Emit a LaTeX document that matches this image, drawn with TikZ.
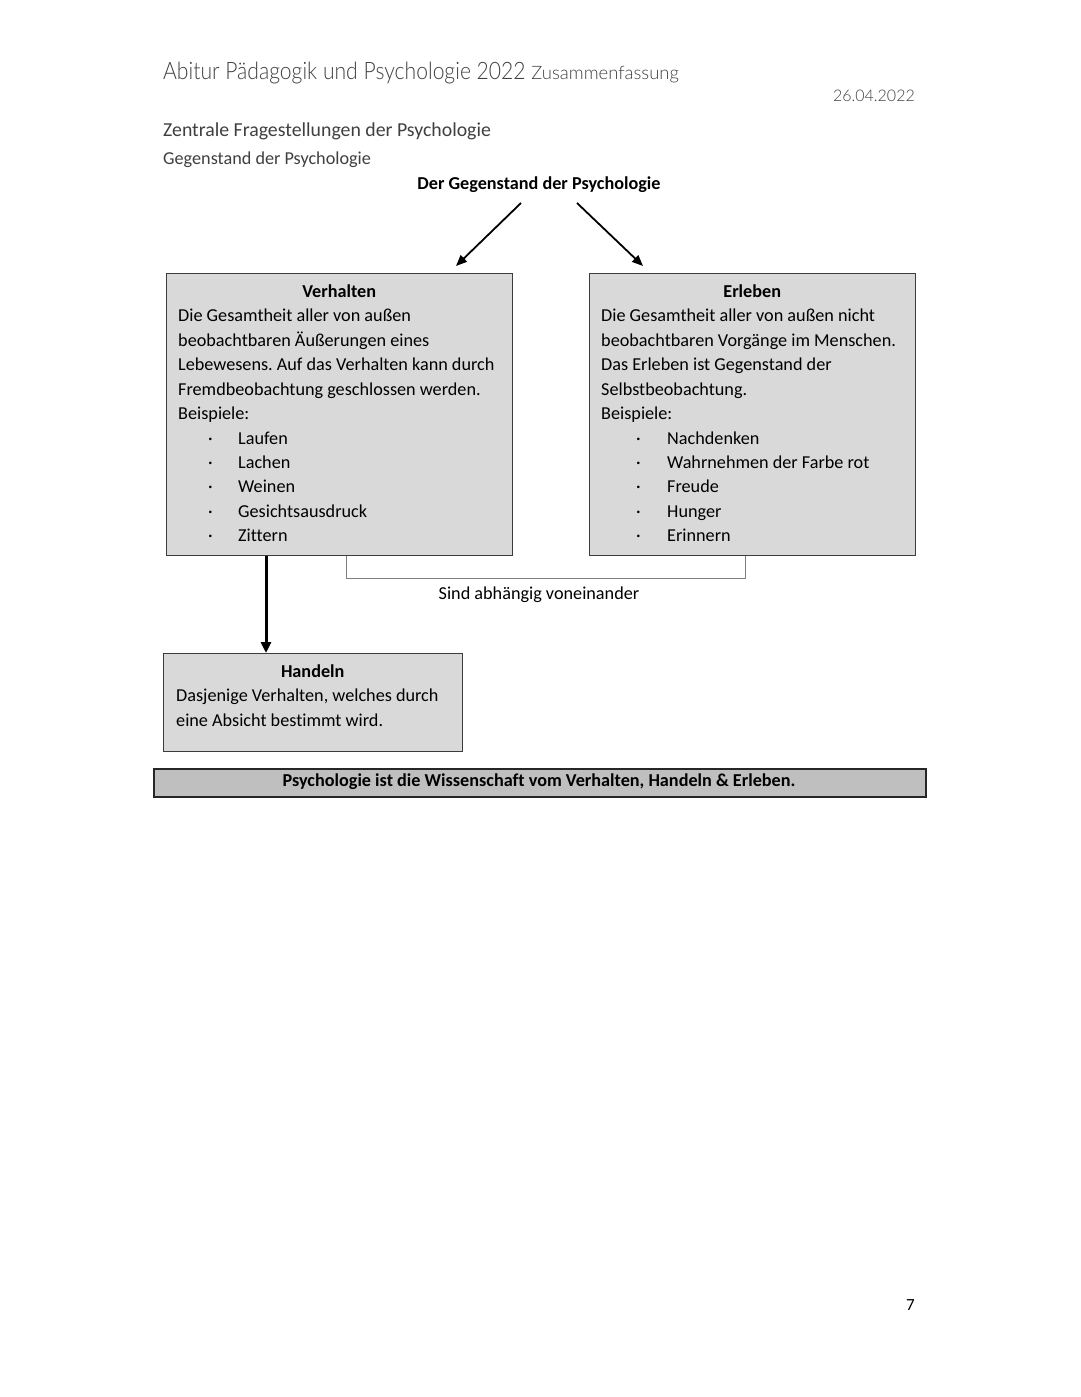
\documentclass[tikz,border=0pt]{standalone}
\usepackage{fontspec}
\setmainfont[Ligatures={NoCommon}]{Carlito}
\newfontfamily\hdrfont{Lato Light}
\newfontfamily\hdrnarrow[FakeStretch=0.88]{Lato Light}
\usetikzlibrary{arrows.meta}
\definecolor{boxfill}{HTML}{D9D9D9}
\definecolor{barfill}{HTML}{BFBFBF}
\definecolor{boxline}{HTML}{3C3C3C}
\definecolor{brk}{HTML}{808080}
\definecolor{hdrgray}{HTML}{404040}
\frenchspacing
\begin{document}
\begin{tikzpicture}[x=1pt,y=1pt,
  box/.style={draw=boxline, line width=1.3pt, fill=boxfill, anchor=north west, inner sep=0pt},
  txt/.style={anchor=north west, inner sep=0pt, align=left, font=\fontsize{18.2}{24.45}\selectfont},
  lbl/.style={inner sep=0pt, font=\fontsize{18.2}{22}\selectfont},
  arr/.style={line width=1.8pt, -{Triangle[length=11pt,width=9pt]}},
  thickarr/.style={line width=3pt, -{Triangle[length=11pt,width=10pt]}},
  brkline/.style={draw=brk, line width=1pt}]
\useasboundingbox[fill=white] (0,0) rectangle (1080,-1397);

% header
\node[anchor=base west, inner sep=0pt, text=hdrgray, font=\hdrnarrow\fontsize{24}{28}\selectfont] (hdr) at (163,-80)
  {Abitur Pädagogik und Psychologie 2022 {\hdrfont\fontsize{18.5}{22}\selectfont Zusammenfassung}};
\node[anchor=base east, inner sep=0pt, text=hdrgray, font=\hdrfont\fontsize{16}{18}\selectfont] (date) at (915,-101) {26.04.2022};
\node[anchor=base west, inner sep=0pt, text=hdrgray, font=\fontsize{19.8}{24}\selectfont] (sec) at (163,-136) {Zentrale Fragestellungen der Psychologie};
\node[anchor=base west, inner sep=0pt, text=hdrgray, font=\fontsize{18.2}{22}\selectfont] (sub) at (163,-164) {Gegenstand der Psychologie};

% title
\node[anchor=base, lbl, font=\bfseries\fontsize{18.2}{22}\selectfont] (title) at (539,-189) {Der Gegenstand der Psychologie};

% boxes
\node[box, minimum width=346pt, minimum height=282pt] (verh) at (166,-273) {};
\node[box, minimum width=326pt, minimum height=282pt] (erl) at (589,-273) {};
\node[box, minimum width=299pt, minimum height=98pt] (hand) at (163,-653) {};
\node[box, draw=black!85, line width=1.6pt, fill=barfill, minimum width=772pt, minimum height=28pt] (bar) at (153,-768) {};

% box texts
\node[txt] (verhT) at (178,-280) {\strut\makebox[322pt]{\bfseries Verhalten}\\
Die Gesamtheit aller von außen\\
beobachtbaren Äußerungen eines\\
Lebewesens. Auf das Verhalten kann durch\\
Fremdbeobachtung geschlossen werden.\\
Beispiele:\\
\hspace*{30pt}\makebox[30pt][l]{·}Laufen\\
\hspace*{30pt}\makebox[30pt][l]{·}Lachen\\
\hspace*{30pt}\makebox[30pt][l]{·}Weinen\\
\hspace*{30pt}\makebox[30pt][l]{·}Gesichtsausdruck\\
\hspace*{30pt}\makebox[30pt][l]{·}Zittern};

\node[txt] (erlT) at (601,-280) {\strut\makebox[302pt]{\bfseries Erleben}\\
Die Gesamtheit aller von außen nicht\\
beobachtbaren Vorgänge im Menschen.\\
Das Erleben ist Gegenstand der\\
Selbstbeobachtung.\\
Beispiele:\\
\hspace*{35pt}\makebox[31pt][l]{·}Nachdenken\\
\hspace*{35pt}\makebox[31pt][l]{·}Wahrnehmen der Farbe rot\\
\hspace*{35pt}\makebox[31pt][l]{·}Freude\\
\hspace*{35pt}\makebox[31pt][l]{·}Hunger\\
\hspace*{35pt}\makebox[31pt][l]{·}Erinnern};

\node[txt] (handT) at (176,-660) {\strut\makebox[273pt]{\bfseries Handeln}\\
Dasjenige Verhalten, welches durch\\
eine Absicht bestimmt wird.};

\node[lbl, font=\bfseries\fontsize{18.2}{22}\selectfont] (barT) at (539,-782) {Psychologie ist die Wissenschaft vom Verhalten, Handeln \& Erleben.};

% arrows from title
\coordinate (a1s) at (521,-203);
\coordinate (a1e) at (456,-266);
\coordinate (a2s) at (577,-203);
\coordinate (a2e) at (643,-266);
\draw[arr] (a1s) -- (a1e);
\draw[arr] (a2s) -- (a2e);

% Verhalten -> Handeln
\coordinate (vh) at (266,-556);
\draw[thickarr] (vh) -- (vh |- hand.north);

% bracket
\coordinate (b1) at (346,-556);
\coordinate (b2) at (745,-556);
\draw[brkline] (b1) |- (745,-578) -- (b2);
\node[lbl, anchor=base] (dep) at (539,-599) {Sind abhängig voneinander};

% page number
\node[anchor=base east, inner sep=0pt, font=\fontsize{17}{20}\selectfont] (page) at (915,-1310) {7};
\end{tikzpicture}
\end{document}
